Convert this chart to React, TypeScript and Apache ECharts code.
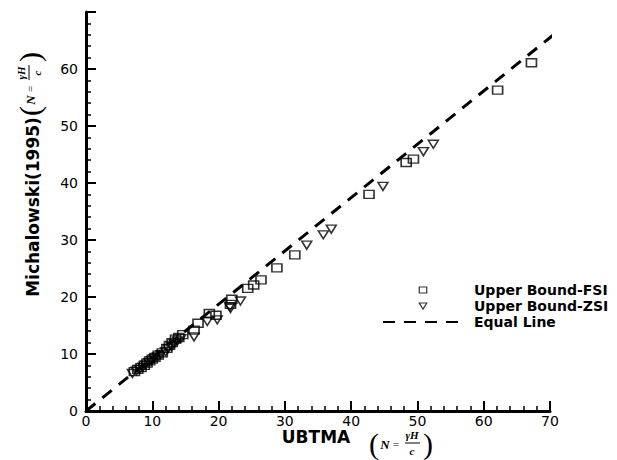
import React, { useEffect, useRef } from "react";
import * as echarts from "echarts";

// Upper Bound-FSI (squares): [UBTMA, Michalowski]
const fsiPoints: number[][] = [
  [7.3, 6.9], [7.8, 7.3], [8.3, 7.6], [8.8, 8.0], [9.2, 8.4], [9.6, 8.8], [10.0, 9.1],
  [10.4, 9.4], [10.9, 9.8], [11.5, 10.2], [12.2, 11.0], [12.6, 11.5], [13.0, 12.0],
  [13.5, 12.6], [14.0, 12.9], [14.6, 13.4], [16.3, 14.2], [16.9, 15.4], [18.6, 17.1],
  [19.6, 16.8], [21.8, 18.7], [22.0, 19.6], [24.4, 21.5], [25.3, 22.1], [26.4, 23.0],
  [28.8, 25.1], [31.5, 27.4], [42.7, 38.0], [48.3, 43.6], [49.4, 44.2], [62.1, 56.3],
  [67.2, 61.1],
];

// Upper Bound-ZSI (triangles)
const zsiPoints: number[][] = [
  [7.0, 6.6], [7.6, 7.0], [8.1, 7.3], [8.6, 7.7], [9.0, 8.1], [9.5, 8.5], [9.9, 8.8],
  [10.3, 9.2], [10.8, 9.5], [11.3, 9.9], [12.0, 10.4], [12.4, 10.9], [12.9, 11.3],
  [13.3, 11.8], [13.8, 12.3], [14.3, 12.7], [16.3, 13.0], [18.3, 15.7], [19.8, 16.0],
  [21.7, 18.3], [21.8, 18.0], [23.3, 19.3], [33.3, 29.1], [35.8, 30.9], [37.0, 31.9],
  [44.8, 39.4], [50.9, 45.5], [52.4, 46.8],
];

// Equal line as drawn in the figure
const equalLine: number[][] = [
  [0, 0],
  [74.8, 70],
];

const seriesNames = ["Upper Bound-FSI", "Upper Bound-ZSI", "Equal Line"];
const xAxisName = "UBTMA";
const yAxisName = "Michalowski(1995)";

const SANS = '"DejaVu Sans", Verdana, sans-serif';
const SERIF = '"Liberation Serif", "Times New Roman", serif';

function formula(cx: number, cy: number, rot: number) {
  const t = (
    x: number,
    y: number,
    text: string,
    size: number,
    italic: boolean,
    bold: boolean,
    lineHeight?: number
  ) => ({
    type: "text",
    x,
    y,
    style: {
      text,
      fontSize: size,
      fontFamily: SERIF,
      fontStyle: italic ? "italic" : "normal",
      fontWeight: bold ? "bold" : "normal",
      fill: "#000",
      align: "center",
      verticalAlign: "middle",
      lineHeight: lineHeight ?? size,
    },
  });
  return {
    type: "group",
    x: cx,
    y: cy,
    rotation: rot,
    children: [
      t(-28, 0, "(", 30, false, false, 30),
      t(-17, 1, "N", 13, true, true),
      t(-6, 1, "=", 11, false, false),
      t(10, 0, "\u03B3H\nc", 11, true, true, 16),
      {
        type: "line",
        shape: { x1: 3, y1: 0, x2: 18, y2: 0 },
        style: { stroke: "#000", lineWidth: 1 },
      },
      t(26, 0, ")", 30, false, false, 30),
    ],
  };
}

export default function App() {
  const ref = useRef<HTMLDivElement>(null);
  useEffect(() => {
    document.body.style.margin = "0";
    if (!ref.current) return;
    const chart = echarts.init(ref.current, null, { renderer: "svg" });
    const axisCommon = {
      type: "value",
      min: 0,
      max: 70,
      interval: 10,
      splitLine: { show: false },
      axisLine: { show: true, onZero: false, lineStyle: { color: "#000", width: 3 } },
      axisTick: { show: true, inside: true, length: 10, lineStyle: { color: "#000", width: 2 } },
      minorTick: { show: true, splitNumber: 5, length: 5, lineStyle: { color: "#000", width: 1.5 } },
      minorSplitLine: { show: false },
    };
    chart.setOption({
      animation: false,
      backgroundColor: "#fff",
      grid: { left: 86, right: 67, top: 12, bottom: 49, containLabel: false },
      xAxis: {
        ...axisCommon,
        axisLabel: {
          color: "#000",
          fontFamily: SANS,
          fontSize: 14,
          margin: 3,
        },
      },
      yAxis: {
        ...axisCommon,
        axisLabel: {
          color: "#000",
          fontFamily: SANS,
          fontSize: 14,
          margin: 8,
          formatter: (v: number) => (v === 70 ? "" : String(v)),
        },
      },
      legend: {
        orient: "vertical",
        left: 382,
        top: 283,
        padding: 0,
        itemWidth: 80,
        itemHeight: 6,
        itemGap: 2,
        data: [
          { name: seriesNames[0], icon: "path://M0,0 L10,0 L10,8 L0,8 Z" },
          { name: seriesNames[1] },
          { name: seriesNames[2], itemStyle: { opacity: 0 } },
        ],
        itemStyle: { borderWidth: 1.2 },
        textStyle: {
          color: "#000",
          fontFamily: SANS,
          fontWeight: "bold",
          fontSize: 14,
          padding: [0, 0, 0, 6],
        },
      },
      graphic: [
        {
          type: "text",
          x: 33,
          y: 207,
          rotation: Math.PI / 2,
          style: {
            text: yAxisName,
            fontFamily: SANS,
            fontWeight: "bold",
            fontSize: 17,
            fill: "#000",
            align: "center",
            verticalAlign: "middle",
          },
        },
        {
          type: "text",
          x: 316,
          y: 437,
          style: {
            text: xAxisName,
            fontFamily: SANS,
            fontWeight: "bold",
            fontSize: 17,
            fill: "#000",
            align: "center",
            verticalAlign: "middle",
          },
        },
        formula(402, 443, 0),
        formula(29, 83, Math.PI / 2),
      ],
      series: [
        {
          name: seriesNames[0],
          type: "scatter",
          data: fsiPoints,
          symbol: "rect",
          symbolSize: [10, 8],
          itemStyle: { color: "transparent", borderColor: "#000", borderWidth: 1.5 },
        },
        {
          name: seriesNames[1],
          type: "scatter",
          data: zsiPoints,
          symbol: "path://M0,0 L10,0 L5,8 Z",
          symbolSize: [10, 8],
          itemStyle: { color: "transparent", borderColor: "#000", borderWidth: 1.5 },
        },
        {
          name: seriesNames[2],
          type: "line",
          data: equalLine,
          symbol: "none",
          clip: false,
          lineStyle: { color: "#000", width: 3, type: [12, 9] },
          itemStyle: { color: "#000" },
          z: 1,
        },
      ],
    });
    return () => chart.dispose();
  }, []);
  return <div ref={ref} style={{ width: 617, height: 460 }} />;
}
